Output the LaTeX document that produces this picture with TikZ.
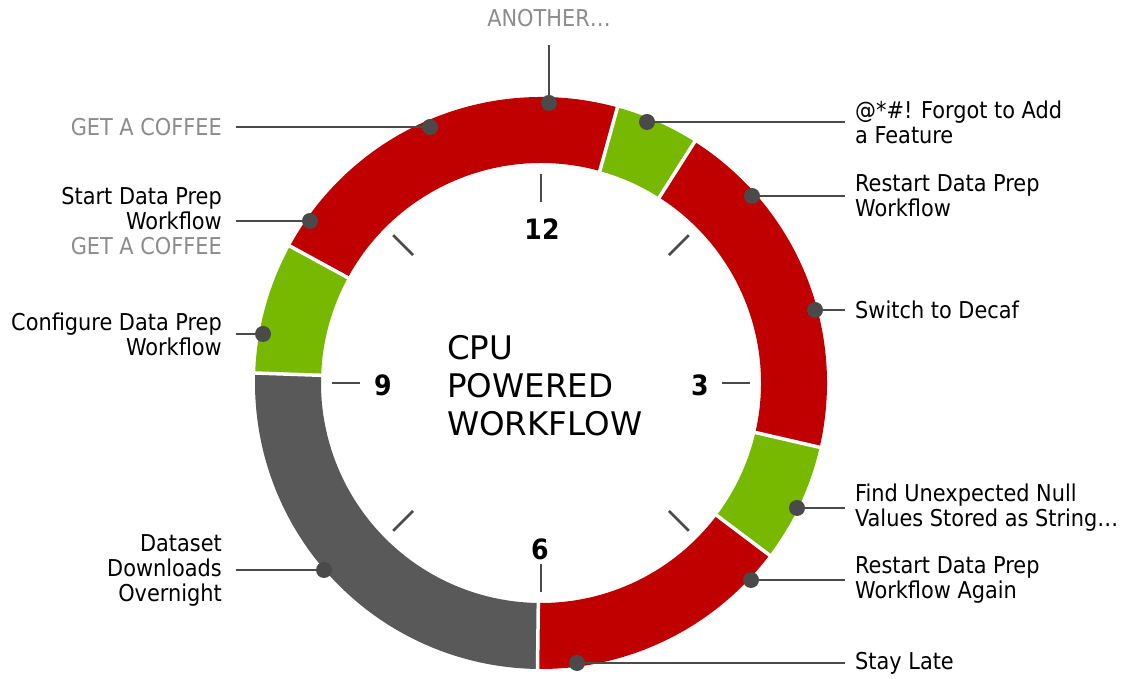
\documentclass[tikz,border=0pt]{standalone}
\usepackage{fontspec}
\setmainfont{DejaVu Sans Condensed}
\newfontfamily\titlefont{DejaVu Sans}
\definecolor{nvred}{HTML}{C00000}
\definecolor{nvgreen}{HTML}{76B900}
\definecolor{seggray}{HTML}{595959}
\definecolor{linegray}{HTML}{4A4A4A}
\definecolor{textgray}{HTML}{8C8C8C}
\newcommand\ringseg[3]{\fill[#1] (#2:286) arc[start angle=#2, end angle=#3, radius=286] -- (#3:220) arc[start angle=#3, end angle=#2, radius=220] -- cycle;}
\begin{document}
\begin{tikzpicture}[x=1pt,y=1pt,
  lbl/.style={font=\fontsize{23.2}{25}\selectfont, text=black, inner sep=0pt},
  rlbl/.style={lbl, anchor=west, align=left, inner xsep=10pt},
  llbl/.style={lbl, anchor=east, align=right, inner xsep=14pt},
  leader/.style={draw=linegray, line width=2.9pt},
  dotn/.style={circle, fill=linegray, minimum size=16pt, inner sep=0pt},
  tickln/.style={draw=linegray, line width=2.8pt},
  num/.style={font=\fontsize{28}{30}\selectfont\bfseries, inner sep=0pt},
  gapline/.style={draw=white, line width=3.5pt},
]
\useasboundingbox (0,0) rectangle (1121,679);
\begin{scope}[shift={(541,296)}]
  \ringseg{nvred}{151.4}{74.5}
  \ringseg{nvgreen}{74.5}{57.5}
  \ringseg{nvred}{57.5}{-13}
  \ringseg{nvgreen}{-13}{-37}
  \ringseg{nvred}{-37}{-90.7}
  \ringseg{seggray}{-90.7}{-182}
  \ringseg{nvgreen}{178}{151.4}
  \foreach \a in {74.5,57.5,-13,-37,-90.7,178,151.4}
    \draw[gapline] (\a:215) -- (\a:291);
  \foreach \a in {0,45,...,315}
    \draw[tickln] (\a:181) -- (\a:209);
  \node[num] (n12) at (1,153.5) {12};
  \node[num] (n3) at (159,-2) {3};
  \node[num] (n6) at (-1,-166) {6};
  \node[num] (n9) at (-158,-2) {9};
  \node[font=\titlefont\fontsize{32.5}{38}\selectfont, anchor=north west, align=left, inner sep=0pt] (title) at (-94,48) {CPU\\POWERED\\WORKFLOW};
\end{scope}

% top
\node[dotn] (dA) at (549,576) {};
\node[lbl, text=textgray, anchor=south, inner ysep=18pt] (A) at (549,634) {ANOTHER…};
\draw[leader] (dA) -- (A);

% right labels
\node[rlbl] (R1) at (845,557) {@*\#! Forgot to Add\\a Feature};
\node[rlbl] (R2) at (845,483) {Restart Data Prep\\Workflow};
\node[rlbl] (R3) at (845,369) {Switch to Decaf};
\node[rlbl] (R4) at (845,171) {Find Unexpected Null\\Values Stored as String…};
\node[rlbl] (R5) at (845,99) {Restart Data Prep\\Workflow Again};
\node[rlbl] (R6) at (845,16) {Stay Late};
\coordinate (p1) at (647,557);
\coordinate (p2) at (752,483);
\coordinate (p3) at (815,369);
\coordinate (p4) at (797,171);
\coordinate (p5) at (751,99);
\coordinate (p6) at (577,16);
\foreach \i in {1,...,6} {
  \draw[leader] (p\i) -- (p\i -| R\i.west);
  \node[dotn] (dR\i) at (p\i) {};
}

% left labels
\node[llbl, text=textgray] (L1) at (236,552) {GET A COFFEE};
\node[llbl] (L2) at (236,458) {Start Data Prep\\Workflow\\\textcolor{textgray}{GET A COFFEE}};
\node[llbl] (L3) at (236,345) {Configure Data Prep\\Workflow};
\node[llbl] (L4) at (236,109) {Dataset\\Downloads\\Overnight};
\coordinate (q1) at (430,552);
\coordinate (q2) at (310,458);
\coordinate (q3) at (263,345);
\coordinate (q4) at (324,109);
\foreach \i in {1,...,4} {
  \draw[leader] (q\i) -- (q\i -| L\i.east);
  \node[dotn] (dL\i) at (q\i) {};
}
\end{tikzpicture}
\end{document}
